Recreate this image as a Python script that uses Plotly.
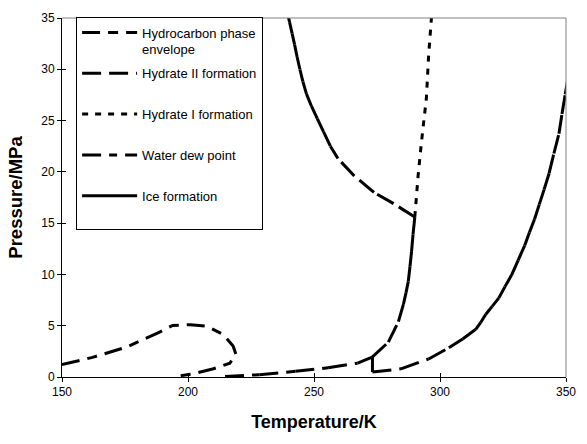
import plotly.graph_objects as go

# ---- data ----
hc_T = [150.0, 162.1, 175.7, 188.1, 193.9, 201.0, 207.5, 214.0, 217.9, 219.0, 216.6, 210.1, 202.3, 195.2]
hc_P = [1.21, 1.91, 2.93, 4.30, 5.03, 5.10, 4.94, 4.14, 3.03, 2.23, 1.34, 0.80, 0.32, 0.06]

h2_T = [214.7, 228.3, 242.6, 255.6, 267.3, 273.1, 279.5, 283.5, 285.5, 286.5, 287.4,
        288.1, 288.7, 289.3, 290.0, 281.6, 273.8, 266.0, 259.5, 256.5, 253.8, 251.3, 249.0, 247.0,
        245.6, 244.4, 243.3, 242.3, 241.3, 240.3, 239.4]
h2_P = [0.06, 0.22, 0.55, 0.90, 1.35, 1.93, 3.40, 5.40, 7.10, 8.20, 9.30,
        10.8, 12.2, 13.9, 15.6, 16.9, 18.0, 19.6, 21.3, 22.5, 23.9, 25.2, 26.4, 27.6,
        28.8, 30.0, 31.2, 32.4, 33.5, 34.6, 35.6]

h1_T = [290.0, 290.3, 291.3, 292.6, 293.2, 294.6, 295.5, 296.0, 296.6]
h1_P = [15.6, 16.7, 19.6, 22.8, 24.3, 27.2, 31.4, 33.3, 35.0]

wd_T = [273.2, 284.5, 295.5, 303.5, 309.0, 314.2, 316.1, 318.1, 320.7, 323.3, 325.8, 328.4,
        331.0, 333.6, 335.5, 337.5, 339.4, 341.3, 343.3, 345.2, 347.2, 348.4, 349.7, 350.6, 351.7]
wd_P = [0.48, 0.80, 1.76, 2.85, 3.70, 4.65, 5.29, 6.09, 6.89, 7.69, 8.81, 9.94,
        11.38, 12.82, 14.10, 15.38, 16.83, 18.27, 19.87, 21.79, 23.72, 25.64, 27.56, 28.85, 30.13]

ice_T = [273.2, 273.2]
ice_P = [0.48, 1.93]

x_ticks = [150, 200, 250, 300, 350]
y_ticks = [0, 5, 10, 15, 20, 25, 30, 35]

names = ["Hydrocarbon phase<br>envelope", "Hydrate II formation<br> ", "Hydrate I formation<br> ",
         "Water dew point<br> ", "Ice formation<br> "]
series_T = [hc_T, h2_T, h1_T, wd_T, ice_T]
series_P = [hc_P, h2_P, h1_P, wd_P, ice_P]
dashes = ["18px,8px,10px,8px", "19px,8px", "6px,7px", "19px,8px,8px,8px", "solid"]
# Excel restarts the dash pattern at each data point for most series
restart = [False, True, False, True, True]

FONT = "Liberation Sans, Arial, sans-serif"

fig = go.Figure()
for gi, (name, T, P, dash, rs) in enumerate(zip(names, series_T, series_P, dashes, restart)):
    if rs:
        for i in range(len(T) - 1):
            fig.add_trace(go.Scatter(
                x=T[i:i + 2], y=P[i:i + 2], mode="lines",
                line=dict(color="black", width=3, dash=dash),
                name=name, legendgroup=f"g{gi}", showlegend=(i == 0), hoverinfo="skip"))
    else:
        fig.add_trace(go.Scatter(
            x=T, y=P, mode="lines", line=dict(color="black", width=3, dash=dash),
            name=name, legendgroup=f"g{gi}", hoverinfo="skip"))

# dummy trace for the overlay axes (inner half of the cross tick marks)
fig.add_trace(go.Scatter(x=[None], y=[None], xaxis="x2", yaxis="y2", showlegend=False, hoverinfo="skip"))

axis_common = dict(showgrid=False, zeroline=False, tickcolor="black", tickwidth=1, ticklen=4)

fig.update_layout(
    width=587, height=444,
    margin=dict(l=62, r=11, t=13, b=67),
    paper_bgcolor="white", plot_bgcolor="white",
    font=dict(family=FONT, color="black", size=12),
    xaxis=dict(range=[150, 350], tickmode="array", tickvals=x_ticks, ticks="outside",
               showline=True, linecolor="black", linewidth=1,
               tickfont=dict(size=12),
               title=dict(text="<b>Temperature/K</b>", font=dict(size=18), standoff=16),
               **axis_common),
    yaxis=dict(range=[0, 35], tickmode="array", tickvals=y_ticks, ticks="outside",
               showline=True, linecolor="black", linewidth=1,
               tickfont=dict(size=12),
               title=dict(text="<b>Pressure/MPa</b>", font=dict(size=18.5), standoff=13),
               **axis_common),
    xaxis2=dict(range=[150, 350], overlaying="x", anchor="y", side="bottom", tickmode="array",
                tickvals=x_ticks, ticks="inside", showticklabels=False, showline=False, **axis_common),
    yaxis2=dict(range=[0, 35], overlaying="y", anchor="x", side="left", tickmode="array",
                tickvals=y_ticks, ticks="inside", showticklabels=False, showline=False, **axis_common),
    legend=dict(x=0.028, y=1.004, xanchor="left", yanchor="top",
                bordercolor="black", borderwidth=1, bgcolor="white",
                font=dict(size=13, family=FONT), traceorder="grouped",
                tracegroupgap=4, valign="top", itemwidth=55),
    shapes=[
        dict(type="line", xref="paper", yref="paper", x0=0, x1=1, y0=1, y1=1,
             line=dict(color="#808080", width=1)),
        dict(type="line", xref="paper", yref="paper", x0=1, x1=1, y0=0, y1=1,
             line=dict(color="#808080", width=1)),
    ],
    showlegend=True,
)

fig.write_html("out.html")
